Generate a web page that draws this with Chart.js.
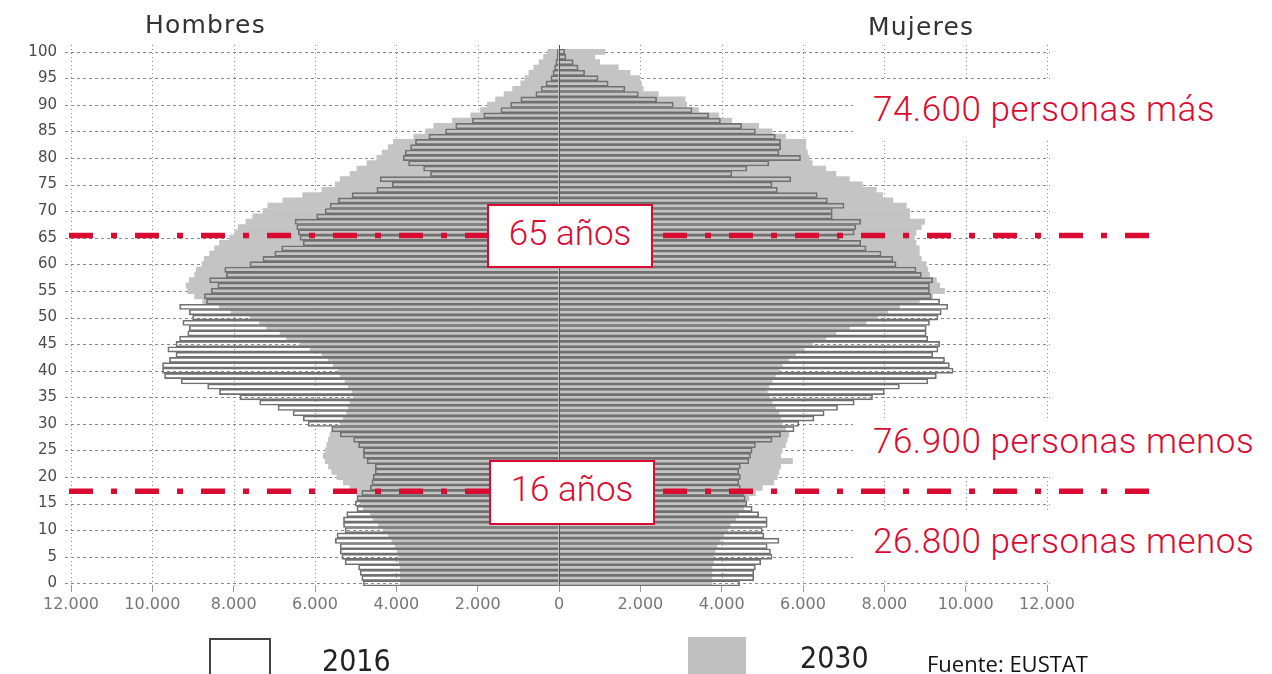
<!DOCTYPE html>
<html lang="es">
<head>
<meta charset="utf-8">
<title>Pirámide de población 2016 - 2030</title>
<script src="https://cdn.jsdelivr.net/npm/chart.js@4.4.1/dist/chart.umd.min.js"></script>
<style>
  html, body { margin: 0; padding: 0; background: #fff; }
  #wrap { position: relative; width: 1272px; height: 674px; overflow: hidden; }
  #wrap canvas { position: absolute; left: 0; top: 0; }
  .lbl { position: absolute; white-space: nowrap; line-height: 1; }
  .title { font-family: "DejaVu Sans", sans-serif; font-size: 25px; letter-spacing: 1.2px; color: #333; }
  .red { font-family: Roboto, sans-serif; font-weight: 300; font-size: 35px; color: #da0b32; }
  .side { letter-spacing: 0.5px; }
  .mask { position: absolute; background: #fff; }
  .box { position: absolute; box-sizing: border-box; border: 2px solid #da0b32; background: #fff;
         display: flex; align-items: center; justify-content: center; padding-bottom: 6px; }
  .leg { font-family: "DejaVu Sans Condensed", "Liberation Sans Narrow", "DejaVu Sans", sans-serif; font-size: 30px; color: #222; }
  .swatch { position: absolute; box-sizing: border-box; }
</style>
</head>
<body>
<div id="wrap">
  <canvas id="pyramid" width="1272" height="674"></canvas>

  <div class="lbl title" style="left:145px; top:12px;">Hombres</div>
  <div class="lbl title" style="left:868px; top:14px;">Mujeres</div>

  <div class="mask" style="left:853px; top:80px; width:400px; height:61px;"></div>
  <div class="mask" style="left:853px; top:420px; width:410px; height:57px;"></div>
  <div class="mask" style="left:853px; top:512px; width:410px; height:66px;"></div>
  <div class="lbl red side" style="left:873px; top:92px;">74.600 personas más</div>
  <div class="lbl red side" style="left:873px; top:424px;">76.900 personas menos</div>
  <div class="lbl red side" style="left:873px; top:524px;">26.800 personas menos</div>

  <div class="box red" style="left:487px; top:204px; width:166px; height:64px;">65 años</div>
  <div class="box red" style="left:489px; top:460px; width:166px; height:65px;">16 años</div>

  <div class="swatch" style="left:209px; top:638px; width:62px; height:50px; border:2px solid #444; background:#fff;"></div>
  <div class="lbl leg" style="left:322px; top:646px;">2016</div>
  <div class="swatch" style="left:688px; top:637px; width:58px; height:50px; background:#c0c0c0;"></div>
  <div class="lbl leg" style="left:800px; top:643px;">2030</div>
  <div class="lbl" style="left:927px; top:652px; font-family:'Open Sans', sans-serif; font-size:22px; color:#111;">Fuente: EUSTAT</div>
</div>

<script>
//-----------------------------------------------------
// Datos (edad 0 → 100)
//-----------------------------------------------------
const EDADES = [
  0, 1, 2, 3, 4, 5, 6, 7, 8, 9, 10, 11, 12, 13, 14, 15, 16, 17, 18, 19,
  20, 21, 22, 23, 24, 25, 26, 27, 28, 29, 30, 31, 32, 33, 34, 35, 36, 37, 38, 39,
  40, 41, 42, 43, 44, 45, 46, 47, 48, 49, 50, 51, 52, 53, 54, 55, 56, 57, 58, 59,
  60, 61, 62, 63, 64, 65, 66, 67, 68, 69, 70, 71, 72, 73, 74, 75, 76, 77, 78, 79,
  80, 81, 82, 83, 84, 85, 86, 87, 88, 89, 90, 91, 92, 93, 94, 95, 96, 97, 98, 99, 100
];

const HOMBRES_2016 = [
  4810, 4850, 4890, 4930, 5260, 5340, 5380, 5380, 5500, 5460,
  5260, 5300, 5300, 5220, 4970, 5010, 4970, 4850, 4640, 4600,
  4570, 4520, 4520, 4720, 4810, 4810, 4930, 5050, 5380, 5590,
  6170, 6290, 6540, 6910, 7360, 7850, 8350, 8640, 9290, 9700,
  9750, 9750, 9580, 9420, 9620, 9420, 9330, 9130, 9090, 9250,
  9010, 9090, 9330, 8670, 8720, 8550, 8390, 8590, 8180, 8220,
  7600, 7280, 6990, 6820, 6290, 6370, 6410, 6450, 6490, 5960,
  5750, 5630, 5430, 5090, 4480, 4100, 4400, 3160, 3330, 3700,
  3830, 3780, 3650, 3530, 3200, 2790, 2540, 2130, 1850, 1430,
  1190, 940, 570, 440, 320, 200, 150, 110, 80, 50,
  40
];

const HOMBRES_2030 = [
  3900, 3900, 3900, 3900, 3940, 3940, 3980, 4030, 4110, 4190,
  4320, 4440, 4570, 4640, 4810, 4890, 4930, 4970, 5140, 5300,
  5460, 5590, 5670, 5750, 5800, 5750, 5710, 5670, 5630, 5550,
  5380, 5300, 5220, 5180, 5140, 5060, 5090, 5180, 5260, 5380,
  5430, 5550, 5670, 5830, 6120, 6370, 6700, 6860, 7190, 7360,
  7600, 8060, 8350, 8760, 8960, 9130, 9170, 9090, 8960, 8920,
  8780, 8720, 8590, 8470, 8350, 8100, 7970, 7890, 7700, 7530,
  7280, 7160, 6790, 6300, 5830, 5500, 5380, 5140, 4970, 4720,
  4480, 4350, 4200, 4070, 3570, 3280, 3080, 2620, 2170, 1930,
  1760, 1560, 1350, 1140, 940, 840, 740, 620, 490, 380,
  280
];

const MUJERES_2016 = [
  4440, 4790, 4790, 4830, 4960, 5240, 5200, 5120, 5410, 5040,
  5000, 5120, 5120, 4910, 4750, 4620, 4580, 4540, 4460, 4420,
  4460, 4420, 4460, 4670, 4710, 4750, 4830, 5240, 5450, 5780,
  5900, 6270, 6520, 6850, 7260, 7710, 8000, 8370, 9070, 9280,
  9690, 9600, 9480, 9190, 9320, 9360, 9070, 9030, 9030, 9110,
  9320, 9400, 9560, 9360, 9150, 9110, 9110, 9190, 8910, 8780,
  8290, 8210, 7920, 7550, 7420, 6890, 7260, 7300, 7420, 6720,
  6720, 7010, 6600, 6350, 5370, 5240, 5700, 4250, 4620, 5160,
  5940, 5410, 5450, 5450, 5320, 4830, 4490, 3970, 3680, 3270,
  2810, 2400, 1950, 1620, 1210, 960, 630, 470, 350, 170,
  140
];

const MUJERES_2030 = [
  3760, 3760, 3760, 3760, 3800, 3800, 3840, 3880, 3970, 4050,
  4130, 4210, 4340, 4420, 4540, 4580, 4670, 4830, 5000, 5280,
  5370, 5410, 5450, 5740, 5450, 5490, 5570, 5610, 5650, 5570,
  5490, 5450, 5410, 5320, 5240, 5160, 5120, 5160, 5240, 5320,
  5410, 5490, 5650, 5820, 6030, 6230, 6560, 6810, 7140, 7550,
  7830, 8080, 8370, 8860, 9190, 9480, 9360, 9280, 9110, 9070,
  9030, 8910, 8860, 8860, 8780, 8740, 8780, 8910, 8990, 8620,
  8620, 8540, 8210, 7960, 7800, 7460, 7140, 6810, 6560, 6230,
  6150, 6110, 6070, 6070, 5570, 5240, 4910, 4250, 3930, 3430,
  3140, 3100, 2440, 2070, 2030, 1990, 1750, 1460, 1000, 880,
  1130
];

const X_TICKS = [-12000, -10000, -8000, -6000, -4000, -2000, 0, 2000, 4000, 6000, 8000, 10000, 12000];

// posiciones (en edad) de las líneas rojas de referencia
const LINEA_65 = 65.4;
const LINEA_16 = 17.3;

const GRIS = "#c4c4c4";
const ROJO = "#da0b32";

//-----------------------------------------------------
// Plugin: rejilla, eje central y líneas rojas
//-----------------------------------------------------
const piramidePlugin = {
  id: "piramide",
  beforeDatasetsDraw(chart) {
    const { ctx, chartArea: a, scales: { x, y } } = chart;
    ctx.save();
    ctx.strokeStyle = "#8a8a8a";
    ctx.lineWidth = 1;

    // líneas horizontales discontinuas cada 5 años
    ctx.setLineDash([3, 3]);
    EDADES.forEach((edad, i) => {
      if (edad % 5 !== 0) return;
      const py = Math.round(y.getPixelForValue(i)) + 0.5;
      ctx.beginPath();
      ctx.moveTo(a.left - 6, py);
      ctx.lineTo(a.right + 3, py);
      ctx.stroke();
    });

    // líneas verticales punteadas
    ctx.setLineDash([1, 3]);
    X_TICKS.forEach((v) => {
      if (v === 0) return;
      const px = Math.round(x.getPixelForValue(v)) + 0.5;
      ctx.beginPath();
      ctx.moveTo(px, a.top - 4);
      ctx.lineTo(px, a.bottom);
      ctx.stroke();
    });
    ctx.restore();
  },
  afterDatasetsDraw(chart) {
    const { ctx, chartArea: a, scales: { x, y } } = chart;
    ctx.save();

    // eje central
    const cx = Math.round(x.getPixelForValue(0)) + 0.5;
    ctx.strokeStyle = "#555";
    ctx.lineWidth = 1;
    ctx.beginPath();
    ctx.moveTo(cx, a.top - 4);
    ctx.lineTo(cx, a.bottom);
    ctx.stroke();

    // líneas rojas punto-raya
    ctx.strokeStyle = ROJO;
    ctx.lineWidth = 5.5;
    ctx.lineCap = "butt";
    ctx.setLineDash([24, 18, 6, 18]);
    [LINEA_65, LINEA_16].forEach((edad) => {
      const py = y.getPixelForValue(edad);
      ctx.beginPath();
      ctx.moveTo(a.left - 2, py);
      ctx.lineTo(1150, py);
      ctx.stroke();
    });
    ctx.restore();
  },
};

//-----------------------------------------------------
// Gráfico
//-----------------------------------------------------
const fmt = (v) => {
  const n = Math.abs(v);
  return n === 0 ? "0" : (n / 1000) + ".000";
};

new Chart(document.getElementById("pyramid"), {
  type: "bar",
  data: {
    labels: EDADES,
    datasets: [
      { label: "2030", data: HOMBRES_2030.map((v) => -v), backgroundColor: GRIS, borderWidth: 0, order: 2, grouped: false },
      { label: "2030", data: MUJERES_2030, backgroundColor: GRIS, borderWidth: 0, order: 2, grouped: false },
      { label: "2016", data: HOMBRES_2016.map((v) => -v), backgroundColor: "rgba(255,255,255,0)", borderColor: "#707070", borderWidth: 1, order: 1, grouped: false },
      { label: "2016", data: MUJERES_2016, backgroundColor: "rgba(255,255,255,0)", borderColor: "#707070", borderWidth: 1, order: 1, grouped: false },
    ],
  },
  options: {
    indexAxis: "y",
    responsive: false,
    animation: false,
    barPercentage: 1,
    categoryPercentage: 1,
    layout: { padding: { top: 49, right: 225, left: 0, bottom: 0 } },
    plugins: {
      legend: { display: false },
      tooltip: { enabled: false },
    },
    scales: {
      x: {
        min: -12000,
        max: 12000,
        afterBuildTicks: (s) => { s.ticks = X_TICKS.map((v) => ({ value: v })); },
        ticks: {
          callback: (v) => fmt(v),
          font: { family: "DejaVu Sans", size: 16 },
          color: "#777",
          padding: 3,
          maxRotation: 0,
          autoSkip: false,
        },
        grid: { drawOnChartArea: false, tickLength: 6, color: "#9a9a9a" },
        border: { display: false },
        afterFit: (s) => { s.height = 88; },
      },
      y: {
        reverse: true,
        ticks: {
          autoSkip: false,
          callback: function (v) {
            const edad = this.getLabelForValue(v);
            return edad % 5 === 0 ? String(edad) : "";
          },
          font: { family: "DejaVu Sans", size: 15 },
          color: "#4a4a4a",
          padding: 6,
        },
        grid: { display: false },
        border: { display: false },
        afterFit: (s) => { s.width = 71; },
      },
    },
  },
  plugins: [piramidePlugin],
});
</script>
</body>
</html>
